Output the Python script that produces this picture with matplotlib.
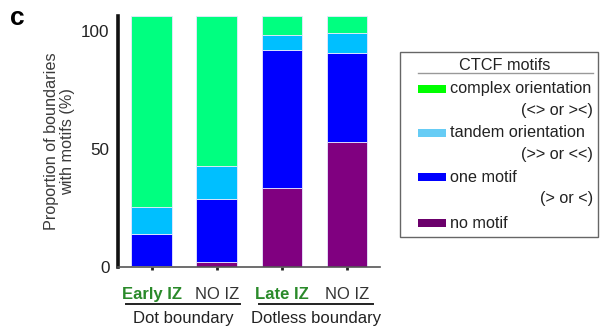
import matplotlib
matplotlib.use("Agg")
import matplotlib.pyplot as plt
from matplotlib.patches import Rectangle
from matplotlib.lines import Line2D

plt.rcParams['font.family'] = ['Liberation Sans', 'DejaVu Sans']

# stacked segment heights, bottom to top
groups = ["Early IZ", "NO IZ", "Late IZ", "NO IZ"]
label_colors = ["#2a8a2a", "#333333", "#2a8a2a", "#333333"]
label_weights = ["bold", "normal", "bold", "normal"]
no_motif = [0.4, 2.1, 33.4, 52.9]
one_motif = [13.4, 26.6, 58.6, 37.7]
tandem = [11.5, 14.0, 6.6, 8.7]
complex_ = [81.1, 63.7, 7.8, 7.1]

categories = ["complex orientation", "tandem orientation", "one motif", "no motif"]
subtexts = ["(<> or ><)", "(>> or <<)", "(> or <)", None]
bar_colors = ["#00ff80", "#00bfff", "#0000ff", "#800080"]
legend_colors = ["#00ff00", "#66ccf5", "#0000ff", "#6b006b"]

fig = plt.figure(figsize=(6.04, 3.27), dpi=100)
ax = fig.add_axes([0.195, 0.1835, 0.434, 0.7675])

x = list(range(len(groups)))
stack = [complex_, tandem, one_motif, no_motif]
bottom = [0.0] * len(groups)
for vals, col in zip(stack[::-1], bar_colors[::-1]):
    ax.bar(x, vals, width=0.62, bottom=bottom, color=col,
           edgecolor="#e8e8ff", linewidth=0.6)
    bottom = [b + v for b, v in zip(bottom, vals)]

ax.set_xlim(-0.52, 3.51)
ax.set_ylim(0, 106.5)
ax.set_yticks([0, 50, 100])
ax.tick_params(axis='y', length=0, labelsize=12.3, pad=6, labelcolor="#222222")
ax.set_xticks(x)
ax.set_xticklabels([])
ax.tick_params(axis='x', length=2.5, width=2, color="#222222", direction="out")
for s in ["top", "right"]:
    ax.spines[s].set_visible(False)
ax.spines["left"].set_linewidth(2.6)
ax.spines["left"].set_color("#111111")
ax.spines["bottom"].set_linewidth(1.2)
ax.spines["bottom"].set_color("#555555")

ax.set_ylabel("Proportion of boundaries\nwith motifs (%)", fontsize=11.7,
              color="#3a3a3a", labelpad=4, linespacing=1.15)

for xi, g, c, w in zip(x, groups, label_colors, label_weights):
    ax.text(xi, -11.5, g, ha="center", va="center", fontsize=12,
            color=c, fontweight=w, transform=ax.transData, clip_on=False)

# group brackets under the tick labels
W, H = 604, 327
def fx(px):
    return px / W
def fy(py):
    return 1 - py / H

fig.add_artist(Line2D([fx(126), fx(240)], [fy(304), fy(304)], color="#222222", lw=1.4))
fig.add_artist(Line2D([fx(259), fx(373)], [fy(304), fy(304)], color="#222222", lw=1.4))
fig.text(fx(183), fy(319), "Dot boundary", ha="center", va="center", fontsize=12, color="#222222")
fig.text(fx(316), fy(319), "Dotless boundary", ha="center", va="center", fontsize=12, color="#222222")

fig.text(fx(17), fy(18), "c", ha="center", va="center", fontsize=19, fontweight="bold")

# legend box
fig.add_artist(Rectangle((fx(400), fy(237)), fx(598) - fx(400), fy(52) - fy(237),
                         facecolor="white", edgecolor="#666666", lw=1.0))
fig.text(fx(505), fy(65), "CTCF motifs", ha="center", va="center", fontsize=11.7, color="#222222")
fig.add_artist(Line2D([fx(418), fx(593)], [fy(73), fy(73)], color="#999999", lw=1.0))

entry_y = [89, 133, 177, 223]
sub_y = [111, 154, 198]
for i, (name, sub, col) in enumerate(zip(categories, subtexts, legend_colors)):
    yy = entry_y[i]
    fig.add_artist(Rectangle((fx(418), fy(yy + 4)), fx(446) - fx(418), fy(yy - 4) - fy(yy + 4),
                             facecolor=col, edgecolor="none"))
    fig.text(fx(450), fy(yy), name, ha="left", va="center", fontsize=11.7, color="#222222")
    if sub is not None:
        fig.text(fx(593), fy(sub_y[i]), sub, ha="right", va="center", fontsize=11.7, color="#222222")

fig.savefig("out.png", dpi=100)
